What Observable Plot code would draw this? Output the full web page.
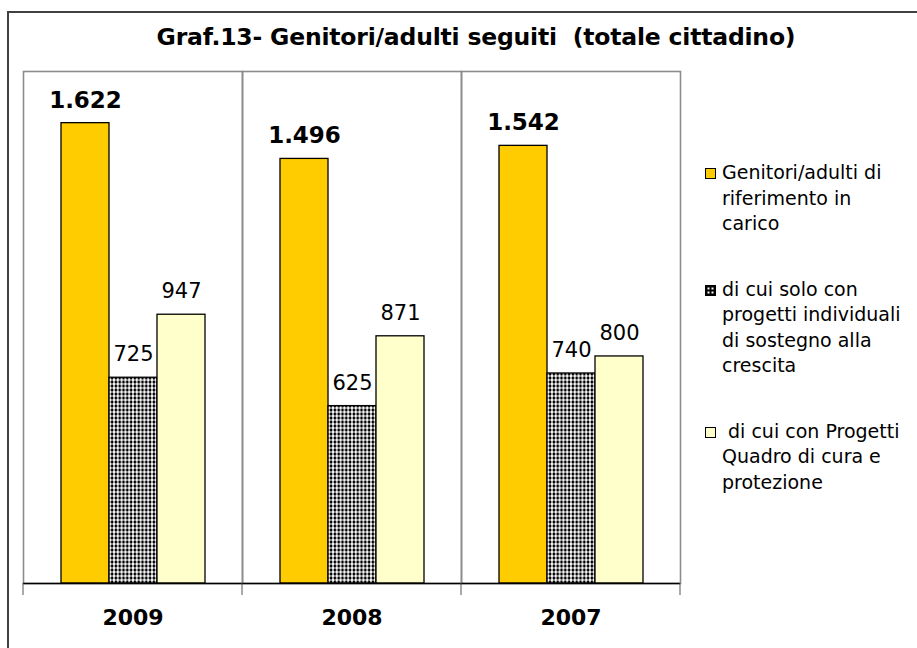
<!DOCTYPE html>
<html><head><meta charset="utf-8">
<script src="https://cdn.jsdelivr.net/npm/d3@7"></script>
<script src="https://cdn.jsdelivr.net/npm/@observablehq/plot@0.6"></script>
<style>
body{margin:0;background:#fff;font-family:"DejaVu Sans",sans-serif;}
#wrap{position:relative;width:917px;height:648px;overflow:hidden;}
#outer{position:absolute;left:7px;top:11px;width:1000px;height:800px;border:2px solid #404040;}
#title{position:absolute;left:0;width:952px;top:23px;text-align:center;font-weight:bold;font-size:23.5px;color:#000;letter-spacing:-0.2px;}
#legend{position:absolute;left:704px;top:160px;font-size:19px;line-height:25.5px;color:#000;white-space:nowrap;}
.item{position:relative;padding-left:18px;}
.sw{position:absolute;left:1px;top:8px;width:11px;height:11px;border:1.3px solid #000;box-sizing:border-box;}
#chart{position:absolute;left:0;top:0;}
</style></head><body>
<div id="wrap">
<div id="outer"></div>
<div id="chart"></div>
<div id="title">Graf.13- Genitori/adulti seguiti&nbsp; (totale cittadino)</div>
<div id="legend"></div>
</div>
<script>
const years = ["2009", "2008", "2007"];
const seriesNames = [
  "Genitori/adulti di riferimento in carico",
  "di cui solo con progetti individuali di sostegno alla crescita",
  " di cui con Progetti Quadro di cura e protezione"
];
const legendLines = [
  ["Genitori/adulti di", "riferimento in", "carico"],
  ["di cui solo con", "progetti individuali", "di sostegno alla", "crescita"],
  ["\u00a0di cui con Progetti", "Quadro di cura e", "protezione"]
];
const genitori = [1622, 1496, 1542];
const soloProgetti = [725, 625, 740];
const progettiQuadro = [947, 871, 800];
const colors = ["#FFCC00", "url(#dots)", "#FFFFCC"];

const data = [];
years.forEach((y, i) => {
  data.push({year: y, s: seriesNames[0], v: genitori[i]});
  data.push({year: y, s: seriesNames[1], v: soloProgetti[i]});
  data.push({year: y, s: seriesNames[2], v: progettiQuadro[i]});
});
const fmt = v => v >= 1000 ? d3.format(",")(v).replace(",", ".") : String(v);

const plot = Plot.plot({
  width: 917, height: 648,
  marginLeft: 23, marginRight: 237, marginTop: 71, marginBottom: 65,
  style: {fontFamily: '"DejaVu Sans",sans-serif', background: "transparent"},
  fx: {domain: years, padding: 0, label: null},
  x: {domain: seriesNames, paddingInner: 0, paddingOuter: 0.76, axis: null},
  y: {domain: [0, 1804], axis: null},
  color: {domain: seriesNames, range: colors},
  marks: [
    Plot.frame({stroke: "#8c8c8c", strokeWidth: 1.6}),
    Plot.barY(data, {fx: "year", x: "s", y: "v", fill: "s", stroke: "#000", strokeWidth: 1.3}),
    Plot.text(data.filter(d => d.s === seriesNames[0]), {fx: "year", x: "s", y: "v", text: d => fmt(d.v), dy: -23, fontWeight: "bold", fontSize: 23, fill: "#000"}),
    Plot.text(data.filter(d => d.s !== seriesNames[0]), {fx: "year", x: "s", y: "v", text: d => fmt(d.v), dy: -23, fontSize: 21, fill: "#000"}),
    Plot.ruleY([0], {stroke: "#000", strokeWidth: 1.5}),
    Plot.axisFx({anchor: "bottom", tickSize: 0, tickPadding: 26, fontSize: 22, fontWeight: "bold", label: null, fill: "#000"})
  ]
});

const svg = d3.select(plot);
svg.insert("defs", ":first-child").html(
  '<pattern id="dots" width="3.8" height="4" patternUnits="userSpaceOnUse">' +
  '<rect width="3.8" height="4" fill="#fff"/>' +
  '<ellipse cx="1.9" cy="2" rx="1.4" ry="1.7" fill="#000"/></pattern>');

// edge tick marks under the category axis
const fx = plot.scale("fx");
const edges = years.map(y => fx.apply(y)).concat([fx.apply(years[years.length - 1]) + fx.bandwidth]);
const yBase = 648 - 65;
svg.append("g").selectAll("line").data(edges).join("line")
  .attr("x1", d => d).attr("x2", d => d)
  .attr("y1", yBase).attr("y2", yBase + 12)
  .attr("stroke", "#555").attr("stroke-width", 1);

document.getElementById("chart").appendChild(plot);

// legend
const leg = d3.select("#legend");
legendLines.forEach((lines, i) => {
  const it = leg.append("div").attr("class", "item").style("margin-bottom", i < 2 ? "40px" : "0");
  const sw = it.append("div").attr("class", "sw");
  if (i === 1) {
    sw.html('<svg width="11" height="11" style="position:absolute;left:-1px;top:-1px"><rect width="11" height="11" fill="#000"/><rect x="2.5" y="2.5" width="2" height="2" fill="#fff"/><rect x="6.5" y="2.5" width="2" height="2" fill="#fff"/><rect x="2.5" y="6.5" width="2" height="2" fill="#fff"/><rect x="6.5" y="6.5" width="2" height="2" fill="#fff"/></svg>');
  } else sw.style("background", colors[i]);
  lines.forEach(l => it.append("div").text(l));
});
</script>
</body></html>
